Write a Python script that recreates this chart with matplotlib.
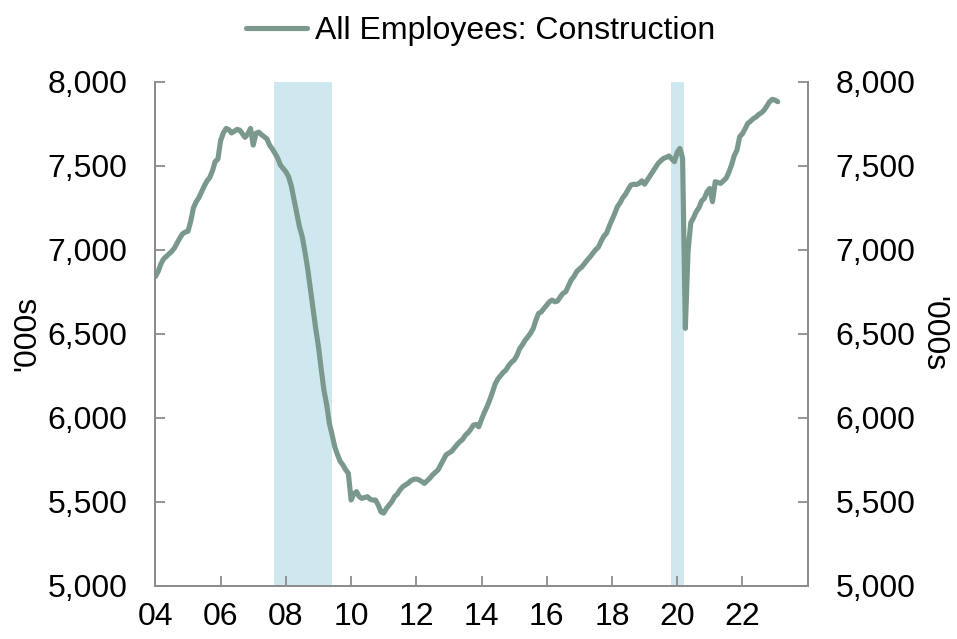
import matplotlib.pyplot as plt
import numpy as np

plt.rcParams['font.family'] = ['Liberation Sans', 'DejaVu Sans']

# monthly values, thousands, Jan 2004 - Feb 2023
y2004 = [6840, 6870, 6915, 6945, 6960, 6975, 6990, 7010, 7040, 7070, 7095, 7105]
y2005 = [7110, 7170, 7250, 7285, 7310, 7345, 7380, 7410, 7430, 7470, 7525, 7540]
y2006 = [7650, 7695, 7722, 7715, 7695, 7705, 7716, 7712, 7690, 7669, 7690, 7722]
y2007 = [7623, 7693, 7700, 7685, 7673, 7660, 7623, 7600, 7574, 7545, 7504, 7484]
y2008 = [7464, 7435, 7380, 7300, 7220, 7137, 7080, 6990, 6890, 6770, 6650, 6530]
y2009 = [6423, 6290, 6165, 6080, 5967, 5900, 5827, 5780, 5740, 5719, 5690, 5669]
y2010 = [5510, 5545, 5560, 5530, 5520, 5525, 5530, 5515, 5510, 5510, 5480, 5440]
y2011 = [5432, 5460, 5480, 5500, 5530, 5545, 5570, 5589, 5600, 5610, 5625, 5633]
y2012 = [5635, 5630, 5620, 5609, 5625, 5640, 5660, 5675, 5689, 5720, 5750, 5780]
y2013 = [5790, 5800, 5820, 5840, 5857, 5870, 5895, 5910, 5930, 5956, 5960, 5946]
y2014 = [5990, 6030, 6065, 6105, 6150, 6200, 6230, 6250, 6270, 6284, 6310, 6330]
y2015 = [6343, 6370, 6410, 6433, 6460, 6480, 6502, 6530, 6580, 6621, 6630, 6651]
y2016 = [6670, 6690, 6700, 6690, 6695, 6720, 6740, 6750, 6785, 6820, 6840, 6870]
y2017 = [6885, 6899, 6920, 6940, 6958, 6980, 7000, 7015, 7050, 7080, 7098, 7140]
y2018 = [7177, 7215, 7256, 7280, 7310, 7330, 7360, 7385, 7390, 7388, 7395, 7410]
y2019 = [7390, 7415, 7440, 7464, 7490, 7514, 7530, 7544, 7550, 7558, 7540, 7524]
y2020 = [7580, 7603, 7544, 6532, 6990, 7160, 7190, 7226, 7250, 7290, 7306, 7345]
y2021 = [7365, 7286, 7405, 7400, 7395, 7410, 7425, 7460, 7504, 7560, 7593, 7673]
y2022 = [7690, 7720, 7752, 7765, 7780, 7790, 7805, 7815, 7831, 7855, 7881, 7895]
y2023 = [7891, 7881]

values = (y2004 + y2005 + y2006 + y2007 + y2008 + y2009 + y2010 + y2011 + y2012
          + y2013 + y2014 + y2015 + y2016 + y2017 + y2018 + y2019 + y2020
          + y2021 + y2022 + y2023)
dates = 2004 + np.arange(len(values)) / 12

recessions = [(2007.65, 2009.42), (2019.82, 2020.22)]
tick_years = list(range(2004, 2023, 2))
tick_labels = [f"{y % 100:02d}" for y in tick_years]
y_ticks = [5000, 5500, 6000, 6500, 7000, 7500, 8000]

line_color = '#7a998c'
shade_color = '#cfe7ee'
spine_color = '#8c8c8c'
fs = 23

fig = plt.figure(figsize=(9.57, 6.39), dpi=100)
ax = fig.add_axes([0.1624, 0.0834, 0.6815, 0.7887])

for start, end in recessions:
    ax.axvspan(start, end, color=shade_color, lw=0, zorder=0)

ax.plot(dates, values, color=line_color, lw=3.7, solid_capstyle='round',
        label='All Employees: Construction', zorder=3)

ax.set_xlim(2004, 2024)
ax.set_ylim(5000, 8000)
ax.set_xticks(tick_years)
ax.set_xticklabels(tick_labels)
ax.set_yticks(y_ticks)
ax.set_yticklabels([f"{v:,}" for v in y_ticks])
ax.set_ylabel("'000s", fontsize=fs, labelpad=4)

ax2 = ax.twinx()
ax2.set_ylim(5000, 8000)
ax2.set_yticks(y_ticks)
ax2.set_yticklabels([f"{v:,}" for v in y_ticks])
ax2.set_ylabel("'000s", fontsize=fs, rotation=270, labelpad=24)

for a in (ax, ax2):
    a.spines['top'].set_visible(False)
    for s in ('left', 'right', 'bottom'):
        a.spines[s].set_color(spine_color)
        a.spines[s].set_linewidth(1.3)
    a.tick_params(axis='both', direction='in', length=7, width=1.3,
                  color=spine_color, labelsize=fs)
ax.tick_params(axis='y', pad=20)
ax.tick_params(axis='x', pad=12)
ax2.tick_params(axis='y', pad=20)

fig.legend(loc='center', bbox_to_anchor=(0.502, 0.951), frameon=False,
           fontsize=fs, handlelength=1.9, handletextpad=0.25)

fig.savefig('out.png', dpi=100)
